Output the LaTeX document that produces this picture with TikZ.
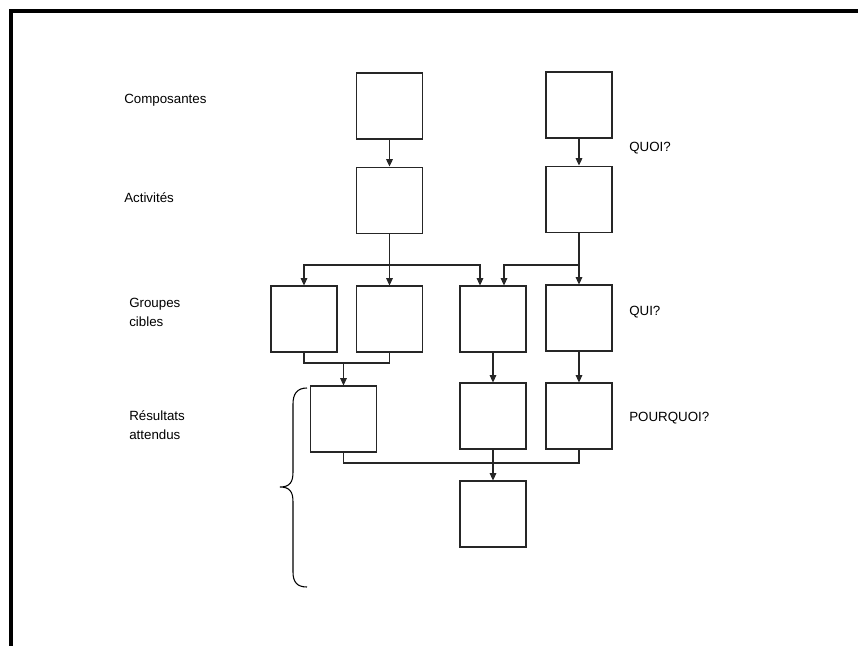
\documentclass[tikz,border=0pt]{standalone}
\usepackage{fontspec}
\setmainfont{Liberation Sans}
\usetikzlibrary{arrows.meta,positioning}
\tikzset{
 box/.style={draw=black!85,line width=0.8pt,minimum width=49.5pt,minimum height=49.5pt,inner sep=0pt},
 arr/.style={-{Triangle[length=5.5pt,width=5pt]},line width=0.8pt,draw=black!85},
 link/.style={line width=0.8pt,draw=black!85},
 lbl/.style={anchor=west,align=left,inner sep=0pt,font=\fontsize{10}{14.25}\selectfont}
}
\begin{document}
\begin{tikzpicture}[x=0.75pt,y=-0.75pt,node distance=20.25pt]
\useasboundingbox (0,0) rectangle (858,646);
\draw[line width=3pt] (11,660) -- (11,11) -- (870,11);
% niveaux
\node[lbl] (lcomp) at (124,100) {Composantes};
\node[lbl] (lact) at (124,198) {Activités};
\node[lbl] (lgrp) at (129,312) {Groupes\\cibles};
\node[lbl] (lres) at (129,425) {Résultats\\attendus};
\node[lbl] (lquoi) at (629,148) {QUOI?};
\node[lbl] (lqui) at (629,312) {QUI?};
\node[lbl] (lpq) at (629,418) {POURQUOI?};
% boites
\node[box] (c1) at (389.5,106) {};
\node[box] (c2) at (579,105) {};
\node[box,below=of c1] (a1) {};
\node[box,below=of c2] (a2) {};
\node[box] (g1) at (304,319) {};
\node[box] (g2) at (389.5,319) {};
\node[box] (g3) at (493,319) {};
\node[box] (g4) at (579,318) {};
\node[box] (r1) at (343.5,419) {};
\node[box] (r2) at (493,416) {};
\node[box] (r3) at (579,416) {};
\node[box] (f) at (493,514) {};
\coordinate (j1) at (389.5,265);
\coordinate (j2) at (579,265);
\coordinate (j3) at (343.5,363);
\coordinate (j4) at (493,463);
% liens
\draw[arr] (c1) -- (a1);
\draw[arr] (c2) -- (a2);
\draw[arr] (a1) -- (g2);
\draw[arr] (j1) -| (g1);
\draw[arr] (j1) -| ([xshift=-9.75pt]g3.north);
\draw[arr] (a2) -- (g4);
\draw[arr] (j2) -| ([xshift=8.25pt]g3.north);
\draw[link] (g1) |- (j3) -| (g2);
\draw[arr] (j3) -- (r1);
\draw[arr] (g3) -- (r2);
\draw[arr] (g4) -- (r3);
\draw[link] (r1) |- (j4) -| (r3);
\draw[arr] (r2) -- (f);
% accolade
\draw[line width=0.8pt] (307,388) .. controls (297,388) and (293,394) .. (293,404) -- (293,472)
  .. controls (293,482) and (290,487) .. (280,487) .. controls (290,487) and (293,492) .. (293,502)
  -- (293,572) .. controls (293,582) and (297,587) .. (307,587);
\end{tikzpicture}
\end{document}
